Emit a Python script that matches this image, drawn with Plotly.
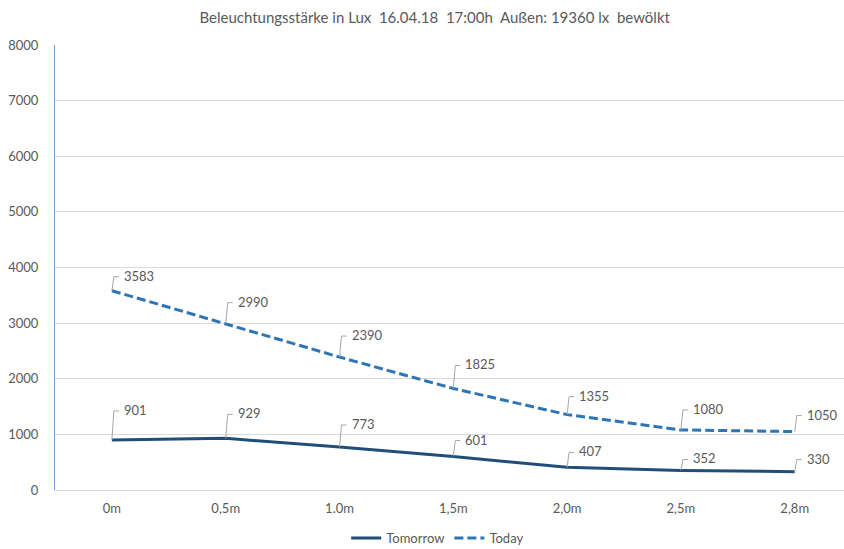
import plotly.graph_objects as go

# Measurement positions and illuminance readings (lux)
positions = ["0m", "0,5m", "1.0m", "1,5m", "2,0m", "2,5m", "2,8m"]
tomorrow = [901, 929, 773, 601, 407, 352, 330]
today = [3583, 2990, 2390, 1825, 1355, 1080, 1050]
y_ticks = [0, 1000, 2000, 3000, 4000, 5000, 6000, 7000, 8000]

# Vertical lift (px) of each callout label above its point
today_lift = [14, 21, 21, 23, 18, 20, 16]
tomorrow_lift = [29, 24, 22, 16, 15, 11, 12]

TEXT = "#595959"
FONT = "Lato"

fig = go.Figure()
fig.add_trace(go.Scatter(
    x=list(range(len(positions))), y=tomorrow, name="Tomorrow", mode="lines",
    line=dict(color="#1F4E79", width=3),
))
fig.add_trace(go.Scatter(
    x=list(range(len(positions))), y=today, name="Today", mode="lines",
    line=dict(color="#2E75B6", width=3, dash="9px,4px"),
))

shapes = []
annotations = []
for series, lifts in ((today, today_lift), (tomorrow, tomorrow_lift)):
    for i, (v, h) in enumerate(zip(series, lifts)):
        # callout leader: up from the point, then a short tick to the right
        shapes.append(dict(
            type="path", xref="x", yref="y",
            xsizemode="pixel", ysizemode="pixel", xanchor=i, yanchor=v,
            path=f"M0,0 L2,{h} L7,{h}",
            line=dict(color="#A6A6A6", width=1),
        ))
        annotations.append(dict(
            x=i, y=v, xref="x", yref="y", text=str(v), showarrow=False,
            xanchor="left", yanchor="middle", xshift=10, yshift=h + 1,
            font=dict(family=FONT, size=13, color=TEXT),
        ))

fig.update_layout(
    width=844, height=549,
    margin=dict(l=55, r=0, t=45, b=59, autoexpand=False),
    paper_bgcolor="white", plot_bgcolor="white",
    title=dict(
        text="Beleuchtungsstärke in Lux  16.04.18  17:00h  Außen: 19360 lx  bewölkt",
        x=0.515, xanchor="center", y=0.967, yanchor="middle",
        font=dict(family=FONT, size=15, color=TEXT),
    ),
    xaxis=dict(
        range=[-0.5, 6.433], tickmode="array",
        tickvals=list(range(len(positions))), ticktext=positions,
        showgrid=False, zeroline=False, showline=True, linecolor="#D9D9D9",
        linewidth=1, ticks="", ticklabelstandoff=6, automargin=False,
        tickfont=dict(family=FONT, size=13, color=TEXT),
    ),
    yaxis=dict(
        range=[0, 8000], tickmode="array", tickvals=y_ticks,
        showgrid=True, gridcolor="#D9D9D9", gridwidth=1,
        zeroline=False, showline=True, linecolor="#6F9FD8", linewidth=1,
        ticks="", ticklabelstandoff=13, automargin=False,
        tickfont=dict(family=FONT, size=13, color=TEXT),
    ),
    legend=dict(
        orientation="h", x=0.485, xanchor="center",
        yref="container", y=0.02, yanchor="middle",
        font=dict(family=FONT, size=13, color=TEXT), itemwidth=30,
    ),
    shapes=shapes,
    annotations=annotations,
)

fig.write_html("out.html")
